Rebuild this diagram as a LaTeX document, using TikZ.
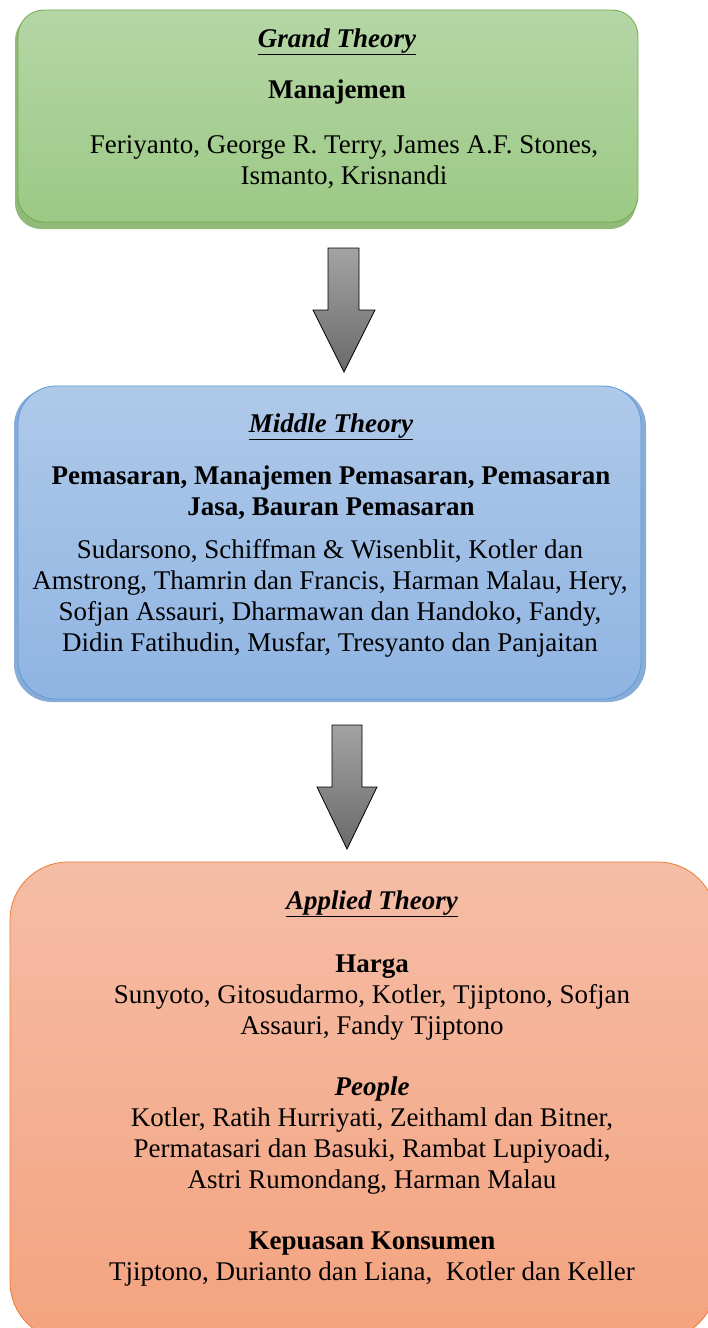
\documentclass[tikz,border=0pt]{standalone}
\usepackage{fontspec}
\setmainfont{Liberation Serif}
\usetikzlibrary{calc}
\begin{document}
\begin{tikzpicture}[x=1pt,y=-1pt,
  box/.style={draw, line width=0.8pt},
  txt/.style={align=center, inner sep=0pt, font=\fontsize{27}{31}\selectfont},
  ttl/.style={inner sep=0pt, font=\fontsize{27}{31}\selectfont\bfseries\itshape},
  blockarrow/.style={draw=black, line width=0.8pt, top color=arrtop, bottom color=arrbot}
]
\definecolor{gtop}{HTML}{B5D6A6}\definecolor{gbot}{HTML}{9CC985}\definecolor{gline}{HTML}{70AD47}
\definecolor{btop}{HTML}{AFC9E9}\definecolor{bbot}{HTML}{8FB4E2}\definecolor{bline}{HTML}{5B9BD5}
\definecolor{otop}{HTML}{F5BDA6}\definecolor{obot}{HTML}{F4A37F}\definecolor{oline}{HTML}{ED7D31}
\definecolor{arrtop}{HTML}{A3A3A3}\definecolor{arrbot}{HTML}{6A6A6A}
\fill[white] (0,0) rectangle (708,1328);
\useasboundingbox (0,0) rectangle (708,1328);
\clip (0,0) rectangle (708,1328);

% green box
\fill[gbot!92!black, rounded corners=26] (15,14) rectangle (636,229);
\path[box, draw=gline, top color=gtop, bottom color=gbot, rounded corners=26] (18,10) rectangle (638,222);
\node[ttl] (gt) at (337,42) {\underline{Grand Theory}};
\node[txt, font=\fontsize{27}{31}\selectfont\bfseries] (gm) at (337,92) {Manajemen};
\node[txt] (gn) at (344,162) {Feriyanto, George R. Terry, James A.F. Stones,\\Ismanto, Krisnandi};

% arrow 1
\coordinate (a1) at (344,248);
\path[blockarrow]
  ($(a1)+(-16,0)$) -- ($(a1)+(15,0)$) -- ($(a1)+(15,62)$) -- ($(a1)+(31,62)$)
  -- ($(a1)+(0,124)$) -- ($(a1)+(-31,62)$) -- ($(a1)+(-16,62)$) -- cycle;

% blue box
\fill[bbot!95!black, rounded corners=38] (14,388) rectangle (646,702);
\path[box, draw=bline, top color=btop, bottom color=bbot, rounded corners=38] (18,386) rectangle (641,699);
\node[ttl] (bt) at (331,427) {\underline{Middle Theory}};
\node[txt, font=\fontsize{27}{31}\selectfont\bfseries] (bm) at (331,493) {Pemasaran, Manajemen Pemasaran, Pemasaran\\Jasa, Bauran Pemasaran};
\node[txt] (bn) at (330,598) {Sudarsono, Schiffman \& Wisenblit, Kotler dan\\Amstrong, Thamrin dan Francis, Harman Malau, Hery,\\Sofjan Assauri, Dharmawan dan Handoko, Fandy,\\Didin Fatihudin, Musfar, Tresyanto dan Panjaitan};

% arrow 2
\coordinate (a2) at (347,725);
\path[blockarrow]
  ($(a2)+(-15,0)$) -- ($(a2)+(15,0)$) -- ($(a2)+(15,62)$) -- ($(a2)+(30,62)$)
  -- ($(a2)+(0,124)$) -- ($(a2)+(-30,62)$) -- ($(a2)+(-15,62)$) -- cycle;

% orange box
\path[box, draw=oline, top color=otop, bottom color=obot, rounded corners=58] (10,862) rectangle (716,1340);
\node[ttl] (ot) at (372,904) {\underline{Applied Theory}};
\node[txt] (oh) at (372,998) {\textbf{Harga}\\Sunyoto, Gitosudarmo, Kotler, Tjiptono, Sofjan\\Assauri, Fandy Tjiptono};
\node[txt] (op) at (372,1136) {\textbf{\textit{People}}\\Kotler, Ratih Hurriyati, Zeithaml dan Bitner,\\Permatasari dan Basuki, Rambat Lupiyoadi,\\Astri Rumondang, Harman Malau};
\node[txt] (ok) at (372,1259) {\textbf{Kepuasan Konsumen}\\Tjiptono, Durianto dan Liana,\ \ Kotler dan Keller};
\end{tikzpicture}
\end{document}
